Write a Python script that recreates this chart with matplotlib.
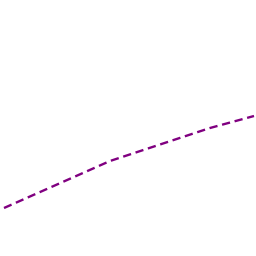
import matplotlib
matplotlib.use("Agg")
import matplotlib.pyplot as plt

x_vals = [4, 110, 210, 254]
y_vals = [208, 161, 128, 116]

fig = plt.figure(figsize=(2.56, 2.56), dpi=100)
ax = fig.add_axes([0, 0, 1, 1])
ax.plot(x_vals, y_vals, color="#800080", lw=1.7, ls=(0, (3.5, 2.0)))
ax.set_xlim(0, 256)
ax.set_ylim(256, 0)
ax.axis("off")
fig.savefig("out.png", dpi=100, facecolor="white")
